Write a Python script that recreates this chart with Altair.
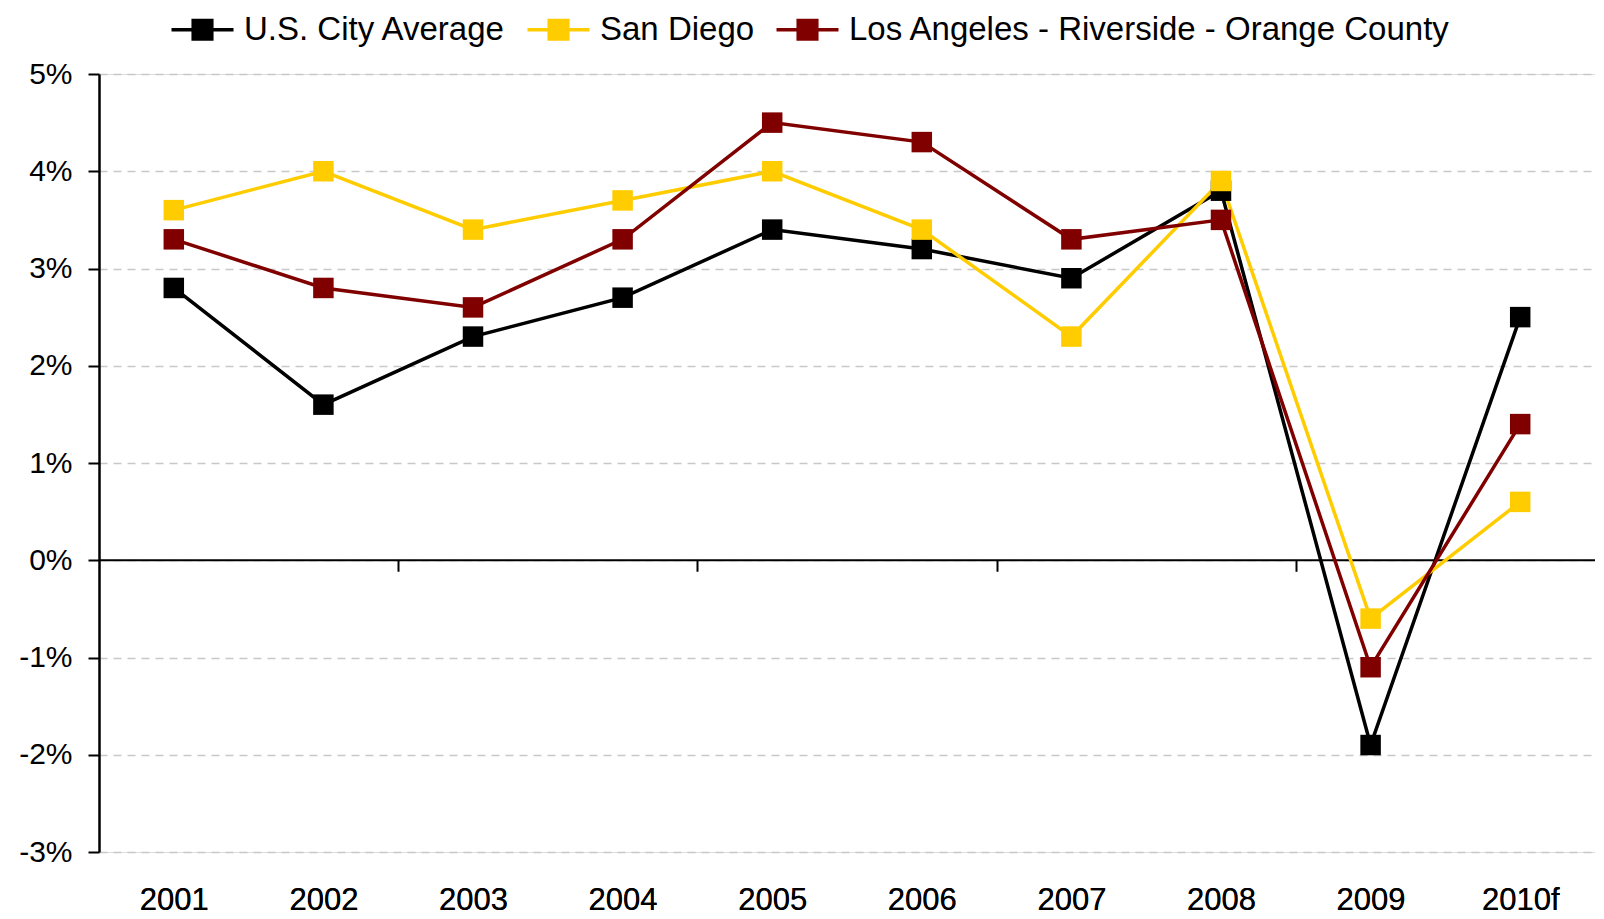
import altair as alt
import pandas as pd

years = ["2001", "2002", "2003", "2004", "2005", "2006", "2007", "2008", "2009", "2010f"]
series = ["U.S. City Average", "San Diego", "Los Angeles - Riverside - Orange County"]
us_avg = [2.8, 1.6, 2.3, 2.7, 3.4, 3.2, 2.9, 3.8, -1.9, 2.5]
san_diego = [3.6, 4.0, 3.4, 3.7, 4.0, 3.4, 2.3, 3.9, -0.6, 0.6]
la_roc = [3.3, 2.8, 2.6, 3.3, 4.5, 4.3, 3.3, 3.5, -1.1, 1.4]
colors = ["#000000", "#FFCC00", "#800000"]
y_ticks = [-3, -2, -1, 0, 1, 2, 3, 4, 5]
zero_tick_positions = [2, 4, 6, 8]

rows = []
for name, vals in zip(series, [us_avg, san_diego, la_roc]):
    for yr, v in zip(years, vals):
        rows.append({"year": yr, "series": name, "value": v})
df = pd.DataFrame(rows)

FONT = "Liberation Sans"
W, H = 1496, 778

x_enc = alt.X(
    "year:N", sort=years, title=None,
    scale=alt.Scale(type="point", padding=0.5),
    axis=alt.Axis(orient="bottom", domain=False, ticks=False, labelAngle=0, labelFontSize=31,
                  labelPadding=33, labelColor="#000000", labelFont=FONT),
)
y_enc = alt.Y(
    "value:Q", title=None,
    scale=alt.Scale(domain=[-3, 5], nice=False, zero=False),
    axis=alt.Axis(values=y_ticks, labelExpr="datum.value + '%'", labelFontSize=30,
                  labelFont=FONT, labelColor="#000000", labelPadding=16,
                  tickSize=11, tickColor="#000000", tickWidth=2,
                  domainColor="#000000", domainWidth=2.5,
                  grid=True, gridDash=[8, 6], gridColor="#c8c8c8", gridWidth=1.5),
)
# wide line-with-square symbol
legend_symbol = "M-2,0L-0.6,0M0.6,0L2,0M-0.6,-0.6L0.6,-0.6L0.6,0.6L-0.6,0.6Z"
color_enc = alt.Color(
    "series:N", sort=series,
    scale=alt.Scale(domain=series, range=colors),
    legend=alt.Legend(title=None, orient="none", direction="horizontal",
                      legendX=86, legendY=-62, labelFontSize=33, labelFont=FONT,
                      labelColor="#000000", symbolType=legend_symbol, labelLimit=1000,
                      symbolSize=961, symbolStrokeWidth=3.5, symbolOpacity=1,
                      labelOffset=24, columnPadding=14),
)

zero_rule = alt.Chart(pd.DataFrame({"value": [0]})).mark_rule(color="#000000", strokeWidth=2).encode(
    x=alt.X(datum=0, scale=alt.Scale(domain=[0, 10]),
            axis=alt.Axis(orient="bottom", offset=-(H - H * 5 / 8), values=zero_tick_positions,
                          labels=False, domain=False, ticks=True, tickSize=11,
                          tickColor="#000000", tickWidth=2, grid=False, title=None)),
    x2=alt.X2(datum=10),
    y=y_enc,
)

lines = alt.Chart(df).mark_line(strokeWidth=3.5).encode(
    x=x_enc, y=y_enc, color=color_enc, order=alt.Order("year:N")
)
points = alt.Chart(df).mark_point(shape="square", filled=True, size=420, opacity=1).encode(
    x=x_enc, y=y_enc, color=color_enc
)

chart = alt.layer(zero_rule, lines, points).resolve_scale(x="independent").properties(
    width=W, height=H,
    autosize=alt.AutoSizeParams(type="none"),
    padding={"left": 91, "top": 66, "right": 0, "bottom": 65},
).configure_view(strokeWidth=0).configure(background="#ffffff")

chart.save("out.html", embed_options={"renderer": "svg", "actions": False})
